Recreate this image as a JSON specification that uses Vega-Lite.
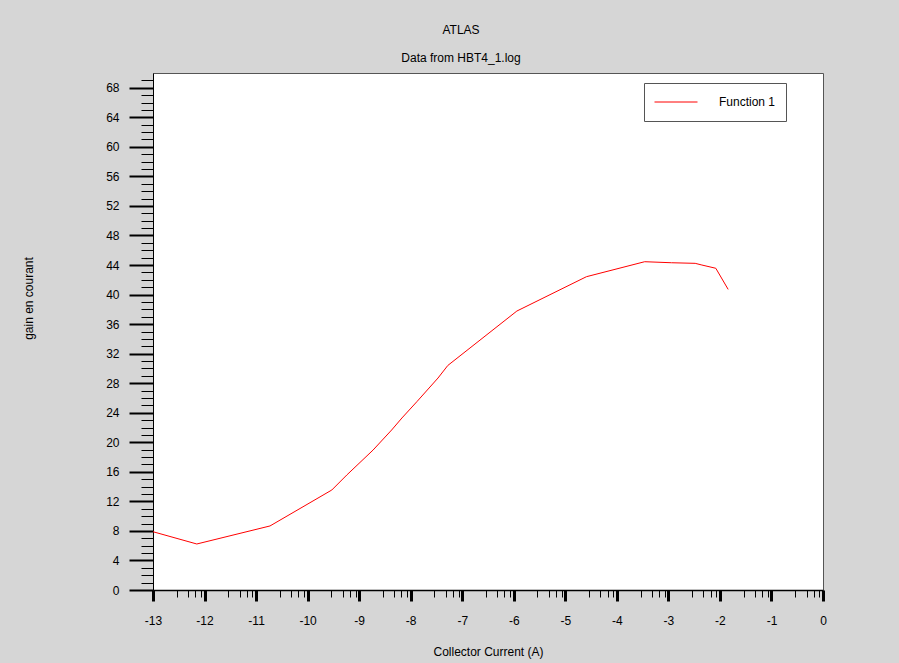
{
  "$schema": "https://vega.github.io/schema/vega-lite/v6.json",
  "width": 670,
  "height": 517,
  "autosize": "none",
  "padding": {"left": 153, "top": 73, "right": 76, "bottom": 73},
  "background": "#d6d6d6",
  "config": {
    "view": {"fill": "white", "stroke": "#555555", "strokeWidth": 1},
    "font": "Liberation Sans"
  },
  "title": {
    "text": "ATLAS",
    "subtitle": "Data from HBT4_1.log",
    "fontSize": 12,
    "fontWeight": "normal",
    "subtitleFontSize": 12,
    "color": "black",
    "subtitleColor": "black",
    "font": "Liberation Sans",
    "subtitleFont": "Liberation Sans",
    "anchor": "middle",
    "frame": "group",
    "dx": -27,
    "offset": 8,
    "subtitlePadding": 16
  },
  "data": {
    "values": [
      {"x": -13.0, "y": 7.89, "series": "Function 1"},
      {"x": -12.15, "y": 6.23, "series": "Function 1"},
      {"x": -10.73, "y": 8.67, "series": "Function 1"},
      {"x": -9.53, "y": 13.54, "series": "Function 1"},
      {"x": -9.24, "y": 15.57, "series": "Function 1"},
      {"x": -8.73, "y": 18.95, "series": "Function 1"},
      {"x": -8.37, "y": 21.66, "series": "Function 1"},
      {"x": -8.17, "y": 23.29, "series": "Function 1"},
      {"x": -7.88, "y": 25.5, "series": "Function 1"},
      {"x": -7.47, "y": 28.7, "series": "Function 1"},
      {"x": -7.28, "y": 30.4, "series": "Function 1"},
      {"x": -5.94, "y": 37.77, "series": "Function 1"},
      {"x": -4.59, "y": 42.42, "series": "Function 1"},
      {"x": -3.46, "y": 44.45, "series": "Function 1"},
      {"x": -2.94, "y": 44.31, "series": "Function 1"},
      {"x": -2.48, "y": 44.23, "series": "Function 1"},
      {"x": -2.35, "y": 44.0, "series": "Function 1"},
      {"x": -2.08, "y": 43.56, "series": "Function 1"},
      {"x": -1.84, "y": 40.7, "series": "Function 1"}
    ]
  },
  "mark": {"type": "line", "strokeWidth": 1, "clip": true},
  "encoding": {
    "x": {
      "field": "x",
      "type": "quantitative",
      "scale": {"domain": [-13, 0], "nice": false, "zero": false},
      "axis": {
        "title": "Collector Current (A)",
        "values": [-13, -12.54, -12.32, -12.18, -12.07, -12, -11.54, -11.32, -11.18, -11.07, -11, -10.54, -10.32, -10.18, -10.07, -10, -9.54, -9.32, -9.18, -9.07, -9, -8.54, -8.32, -8.18, -8.07, -8, -7.54, -7.32, -7.18, -7.07, -7, -6.54, -6.32, -6.18, -6.07, -6, -5.54, -5.32, -5.18, -5.07, -5, -4.54, -4.32, -4.18, -4.07, -4, -3.54, -3.32, -3.18, -3.07, -3, -2.54, -2.32, -2.18, -2.07, -2, -1.54, -1.32, -1.18, -1.07, -1, -0.54, -0.32, -0.18, -0.07, 0],
        "labelExpr": "abs(datum.value - round(datum.value)) < 0.001 ? '' + round(datum.value) : ''",
        "tickSize": {"condition": {"test": "abs(datum.value - round(datum.value)) < 0.001", "value": 11}, "value": 7},
        "tickWidth": {"condition": {"test": "abs(datum.value - round(datum.value)) < 0.001", "value": 3}, "value": 1},
        "tickColor": "black",
        "domainColor": "black",
        "domainWidth": 1.5,
        "labelColor": "black",
        "labelFontSize": 12,
        "labelFont": "Liberation Sans",
        "labelPadding": 14,
        "labelFlush": false,
        "labelOverlap": false,
        "labelBound": false,
        "grid": false,
        "titleFont": "Liberation Sans",
        "titleFontSize": 12,
        "titleFontWeight": "normal",
        "titleColor": "black",
        "titleY": 61,
        "titleBaseline": "middle"
      }
    },
    "y": {
      "field": "y",
      "type": "quantitative",
      "scale": {"domain": [0, 70], "nice": false, "zero": true},
      "axis": {
        "title": "gain en courant",
        "values": [0, 1, 2, 3, 4, 5, 6, 7, 8, 9, 10, 11, 12, 13, 14, 15, 16, 17, 18, 19, 20, 21, 22, 23, 24, 25, 26, 27, 28, 29, 30, 31, 32, 33, 34, 35, 36, 37, 38, 39, 40, 41, 42, 43, 44, 45, 46, 47, 48, 49, 50, 51, 52, 53, 54, 55, 56, 57, 58, 59, 60, 61, 62, 63, 64, 65, 66, 67, 68, 69],
        "labelExpr": "datum.value % 4 === 0 ? datum.label : ''",
        "tickSize": {"condition": {"test": "datum.value % 4 === 0", "value": 24}, "value": 12},
        "tickWidth": {"condition": {"test": "datum.value % 4 === 0", "value": 2}, "value": 1},
        "tickColor": "black",
        "domainColor": "black",
        "labelColor": "black",
        "labelFontSize": 12,
        "labelFont": "Liberation Sans",
        "labelPadding": 10,
        "labelFlush": false,
        "labelOverlap": false,
        "labelBound": false,
        "grid": false,
        "titleFont": "Liberation Sans",
        "titleFontSize": 12,
        "titleFontWeight": "normal",
        "titleColor": "black",
        "titleX": -125,
        "titleY": 225,
        "titleAngle": 270,
        "titleAlign": "center",
        "titleBaseline": "middle"
      }
    },
    "color": {
      "field": "series",
      "type": "nominal",
      "scale": {"range": ["#ff0000"]},
      "legend": {
        "title": null,
        "orient": "none",
        "legendX": 491,
        "legendY": 10,
        "fillColor": "white",
        "strokeColor": "#555555",
        "padding": 10,
        "clipHeight": 18,
        "symbolType": "stroke",
        "symbolSize": 1849,
        "symbolStrokeWidth": 1,
        "labelFont": "Liberation Sans",
        "labelFontSize": 12,
        "labelColor": "black",
        "labelOffset": 21,
        "labelExpr": "datum.label + '\u2007\u2007\u2007'"
      }
    }
  }
}
